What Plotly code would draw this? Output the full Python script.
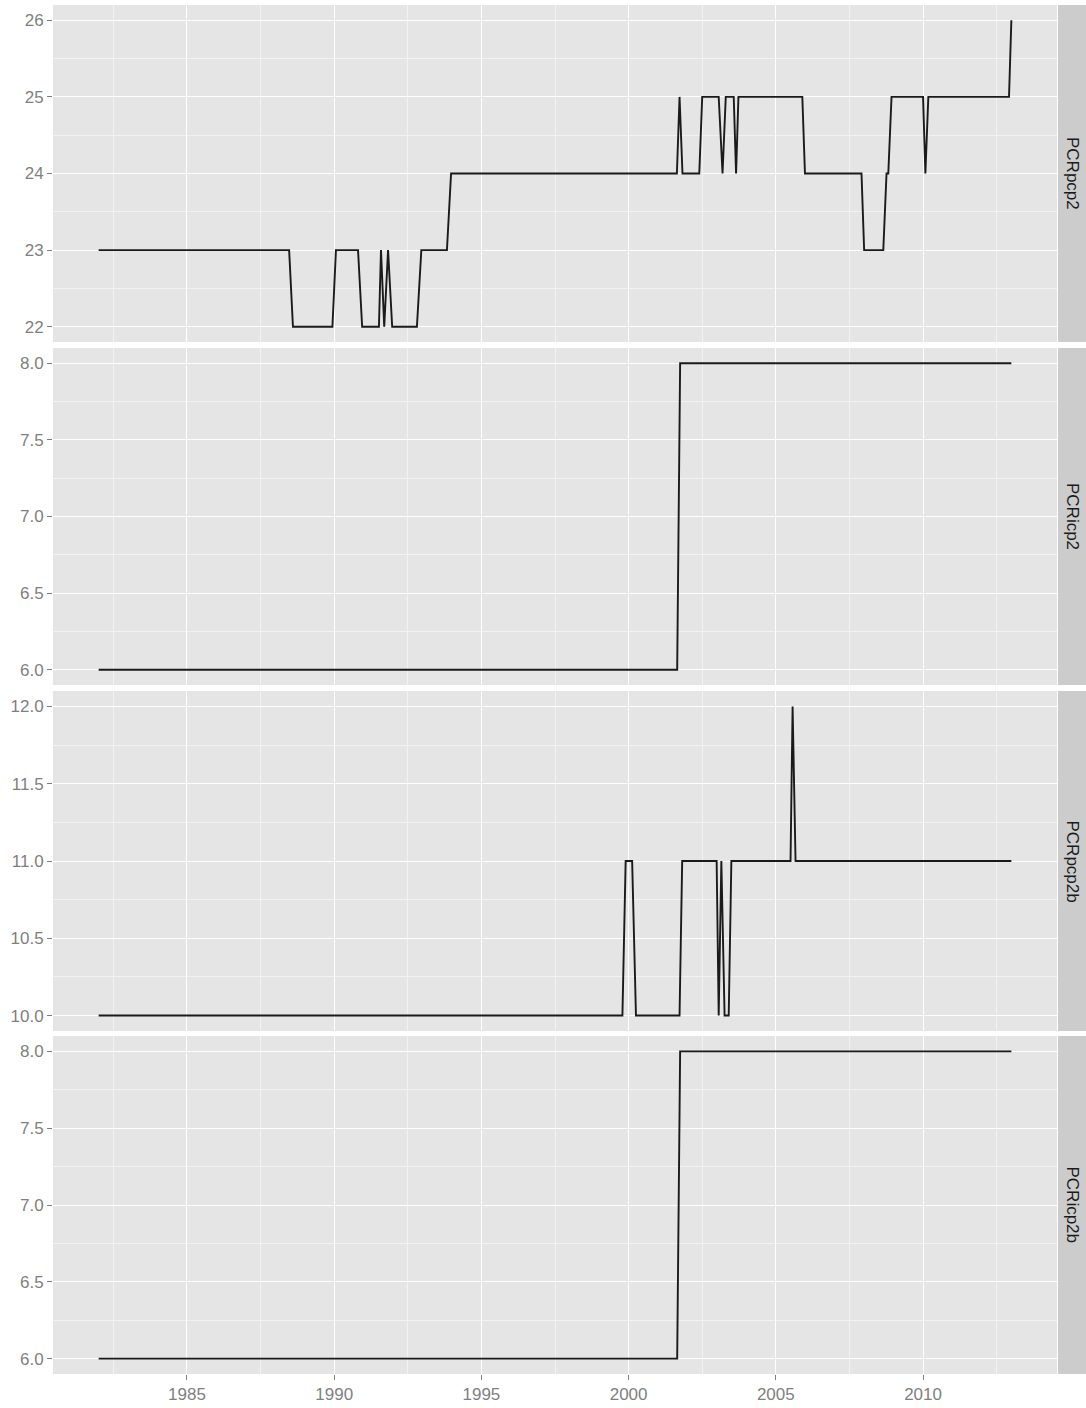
import plotly.graph_objects as go

# ---- data ----
panel_names = ["PCRpcp2", "PCRicp2", "PCRpcp2b", "PCRicp2b"]

x_pcrpcp2 = [1982.0, 1988.47, 1988.6, 1989.94, 1990.06, 1990.81, 1990.95, 1991.52, 1991.59, 1991.7,
             1991.83, 1991.97, 1992.81, 1992.96, 1993.83, 1993.97, 2001.64, 2001.73, 2001.83, 2002.40,
             2002.50, 2003.06, 2003.19, 2003.30, 2003.57, 2003.65, 2003.73, 2005.90, 2005.99, 2007.91,
             2008.0, 2008.65, 2008.76, 2008.82, 2008.93, 2010.0, 2010.08, 2010.18, 2012.92, 2013.0]
y_pcrpcp2 = [23, 23, 22, 22, 23, 23, 22, 22, 23, 22,
             23, 22, 22, 23, 23, 24, 24, 25, 24, 24,
             25, 25, 24, 25, 25, 24, 25, 25, 24, 24,
             23, 23, 24, 24, 25, 25, 24, 25, 25, 26]

x_pcricp2 = [1982.0, 2001.65, 2001.75, 2013.0]
y_pcricp2 = [6, 6, 8, 8]

x_pcrpcp2b = [1982.0, 1999.79, 1999.9, 2000.12, 2000.25, 2001.73, 2001.82, 2002.99, 2003.06, 2003.15,
              2003.26, 2003.40, 2003.49, 2005.50, 2005.57, 2005.67, 2013.0]
y_pcrpcp2b = [10, 10, 11, 11, 10, 10, 11, 11, 10, 11,
              10, 10, 11, 11, 12, 11, 11]

x_pcricp2b = [1982.0, 2001.65, 2001.75, 2013.0]
y_pcricp2b = [6, 6, 8, 8]

x_ticks = [1985, 1990, 1995, 2000, 2005, 2010]
x_minor = [1982.5, 1987.5, 1992.5, 1997.5, 2002.5, 2007.5, 2012.5]
y_ticks = [[22, 23, 24, 25, 26], [6.0, 6.5, 7.0, 7.5, 8.0], [10.0, 10.5, 11.0, 11.5, 12.0], [6.0, 6.5, 7.0, 7.5, 8.0]]
y_fmt = [".0f", ".1f", ".1f", ".1f"]

series = [(x_pcrpcp2, y_pcrpcp2), (x_pcricp2, y_pcricp2), (x_pcrpcp2b, y_pcrpcp2b), (x_pcricp2b, y_pcricp2b)]

# ---- layout geometry ----
W, H = 1086, 1408
ml, mr, mt, mb = 53, 0, 5, 34
pw = W - ml - mr
ph = H - mt - mb
panel_right = 1057
xdom_end = (panel_right - ml) / pw
# panel pixel extents (top, bottom)
panels_px = [(5, 342), (348, 685), (691, 1031), (1036, 1374)]


def ypaper(p):
    return (H - mb - p) / ph


PANEL_BG = "#E5E5E5"
GRID_MAJOR = "#FFFFFF"
GRID_MINOR = "#F2F2F2"
TICK_COL = "#7F7F7F"
FONT = "Liberation Sans, Arial, sans-serif"

fig = go.Figure()
layout = dict(
    width=W, height=H,
    margin=dict(l=ml, r=mr, t=mt, b=mb, pad=0),
    paper_bgcolor="white", plot_bgcolor=PANEL_BG,
    showlegend=False,
    font=dict(family=FONT, size=17, color=TICK_COL),
)
shapes = []
annotations = []

for i, ((xs, ys), name) in enumerate(zip(series, panel_names)):
    k = "" if i == 0 else str(i + 1)
    fig.add_trace(go.Scatter(x=xs, y=ys, mode="lines", xaxis="x" + k, yaxis="y" + k,
                             line=dict(color="#1A1A1A", width=1.9), hoverinfo="skip"))
    top, bot = panels_px[i]
    lo, hi = min(y_ticks[i]), max(y_ticks[i])
    pad = (hi - lo) * 0.05
    bottom_panel = (i == 3)
    layout["xaxis" + k] = dict(
        domain=[0, xdom_end], anchor="y" + k, range=[1980.45, 2014.55],
        tickmode="array", tickvals=x_ticks, ticktext=[str(v) for v in x_ticks],
        showticklabels=bottom_panel, ticks="outside" if bottom_panel else "",
        ticklen=5, tickwidth=1, tickcolor=TICK_COL,
        showgrid=True, gridcolor=GRID_MAJOR, gridwidth=1.4,
        minor=dict(tickmode="array", tickvals=x_minor, showgrid=True, gridcolor=GRID_MINOR, gridwidth=0.8, ticks=""),
        zeroline=False, showline=False,
        tickfont=dict(family=FONT, size=17, color=TICK_COL),
    )
    if i > 0:
        layout["xaxis" + k]["matches"] = "x"
    minor_vals = [(a + b) / 2 for a, b in zip(y_ticks[i][:-1], y_ticks[i][1:])]
    layout["yaxis" + k] = dict(
        domain=[ypaper(bot), ypaper(top)], anchor="x" + k, range=[lo - pad, hi + pad],
        tickmode="array", tickvals=y_ticks[i], ticktext=[format(v, y_fmt[i]) for v in y_ticks[i]],
        ticks="outside", ticklen=5, tickwidth=1, tickcolor=TICK_COL,
        showgrid=True, gridcolor=GRID_MAJOR, gridwidth=1.4,
        minor=dict(tickmode="array", tickvals=minor_vals, showgrid=True, gridcolor=GRID_MINOR, gridwidth=0.8, ticks=""),
        zeroline=False, showline=False,
        tickfont=dict(family=FONT, size=17, color=TICK_COL),
    )
    # facet strip on the right
    shapes.append(dict(type="rect", xref="paper", yref="paper",
                       x0=xdom_end + 1 / pw, x1=1.0, y0=ypaper(bot), y1=ypaper(top),
                       fillcolor="#CCCCCC", line=dict(width=0), layer="below"))
    annotations.append(dict(xref="paper", yref="paper", x=(xdom_end + 1.0) / 2 + 1 / pw,
                            y=(ypaper(bot) + ypaper(top)) / 2, text=name, textangle=90,
                            showarrow=False, font=dict(family=FONT, size=17, color="#1A1A1A"),
                            xanchor="center", yanchor="middle"))

layout["shapes"] = shapes
layout["annotations"] = annotations
fig.update_layout(**layout)
fig.write_html("out.html")
